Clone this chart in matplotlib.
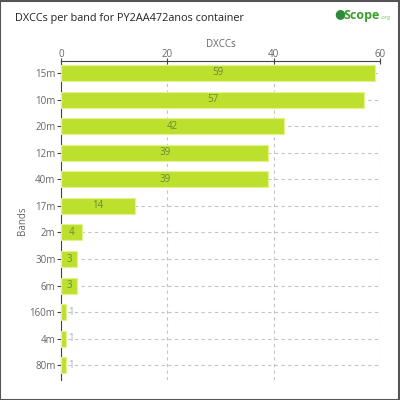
import matplotlib.pyplot as plt
from matplotlib.patches import Rectangle

bands = ['15m', '10m', '20m', '12m', '40m', '17m', '2m', '30m', '6m', '160m', '4m', '80m']
dxccs = [59, 57, 42, 39, 39, 14, 4, 3, 3, 1, 1, 1]
x_ticks = [0, 20, 40, 60]

plt.rcParams['font.family'] = ['Open Sans', 'DejaVu Sans']

fig = plt.figure(figsize=(4, 4), dpi=100)
ax = fig.add_axes([61 / 400, 20 / 400, 319 / 400, 319 / 400])

y = list(range(len(bands)))
ax.barh(y, dxccs, height=0.6, color='#bde02e', edgecolor='#e2f58a', linewidth=0.8, zorder=3)

for yi, v in zip(y, dxccs):
    if v >= 3:
        ax.text(v / 2, yi, str(v), ha='center', va='center', fontsize=7, color='#6a8a3a', zorder=4)
    else:
        ax.text(v + 0.4, yi, str(v), ha='left', va='center', fontsize=7, color='#9ab0c0', zorder=4)

ax.set_xlim(0, 60)
ax.set_ylim(len(bands) - 0.45, -0.45)
ax.set_yticks(y)
ax.set_yticklabels(bands)
ax.set_xticks(x_ticks)
ax.xaxis.tick_top()
ax.xaxis.set_label_position('top')
ax.set_xlabel('DXCCs', fontsize=7, color='#666666', labelpad=1)
ax.set_ylabel('Bands', fontsize=7, color='#666666', labelpad=1)
ax.tick_params(axis='x', direction='inout', length=4, labelsize=7, labelcolor='#666666', color='#444444', pad=-1)
ax.tick_params(axis='y', direction='out', length=3, labelsize=7, labelcolor='#666666', color='#444444', pad=1)

ax.grid(True, axis='both', linestyle=(0, (3, 3)), color='#c4c4c4', linewidth=0.8, zorder=0)
for s in ['right', 'bottom']:
    ax.spines[s].set_visible(False)
ax.spines['left'].set_color('#444444')
ax.spines['top'].set_color('#444444')

fig.text(15 / 400, 1 - 18 / 400, 'DXCCs per band for PY2AA472anos container', fontsize=7.8, color='#222222', va='center')
fig.text(362 / 400, 1 - 15 / 400, 'Scope', fontsize=9, color='#3aa02a', weight='bold', ha='center', va='center')
fig.text(386 / 400, 1 - 18 / 400, '.org', fontsize=4, color='#8ac040', ha='center', va='center')
fig.text(340 / 400, 1 - 14 / 400, '●', fontsize=9, color='#2e8b3a', ha='center', va='center')
fig.patches.append(Rectangle((0.001, 0.001), 0.997, 0.997, transform=fig.transFigure,
                             fill=False, edgecolor='#555555', linewidth=1.5))

fig.savefig('out.png', dpi=100)
